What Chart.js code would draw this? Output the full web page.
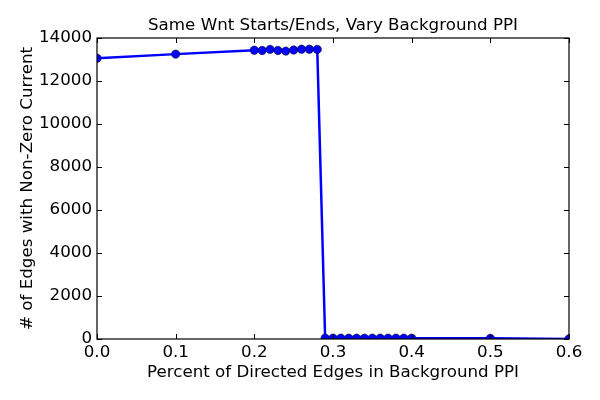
<!DOCTYPE html>
<html>
<head>
<meta charset="utf-8">
<script src="https://cdn.jsdelivr.net/npm/chart.js@4"></script>
<style>
html,body{margin:0;padding:0;background:#fff;}
#wrap{width:600px;height:400px;position:relative;}
</style>
</head>
<body>
<div id="wrap"><canvas id="c" width="600" height="400"></canvas></div>
<script>
const xValues = [0.0, 0.1, 0.20, 0.21, 0.22, 0.23, 0.24, 0.25, 0.26, 0.27, 0.28, 0.29, 0.30, 0.31, 0.32, 0.33, 0.34, 0.35, 0.36, 0.37, 0.38, 0.39, 0.40, 0.5, 0.6];
const edgeCounts = [13060, 13250, 13430, 13420, 13470, 13420, 13390, 13440, 13480, 13480, 13470, 40, 40, 40, 40, 40, 40, 40, 40, 40, 40, 40, 40, 30, 5];
const xTicks = [0.0, 0.1, 0.2, 0.3, 0.4, 0.5, 0.6];
const yTicks = [0, 2000, 4000, 6000, 8000, 10000, 12000, 14000];
const titleText = 'Same Wnt Starts/Ends, Vary Background PPI';
const xTitle = 'Percent of Directed Edges in Background PPI';
const yTitle = '# of Edges with Non-Zero Current';

const FONT = 'DejaVu Sans';
const FS = 16.7;
const points = xValues.map((x, i) => ({x: x, y: edgeCounts[i]}));

const frameAndTitle = {
  id: 'frameAndTitle',
  afterDatasetsDraw(chart) {
    const ctx = chart.ctx, a = chart.chartArea;
    const xs = chart.scales.x, ys = chart.scales.y;
    ctx.save();
    ctx.strokeStyle = '#000';
    ctx.lineWidth = 1;
    ctx.beginPath();
    xTicks.forEach(v => {
      const px = Math.round(xs.getPixelForValue(v)) + 0.5;
      ctx.moveTo(px, a.bottom); ctx.lineTo(px, a.bottom - 5);
      ctx.moveTo(px, a.top); ctx.lineTo(px, a.top + 5);
    });
    yTicks.forEach(v => {
      const py = Math.round(ys.getPixelForValue(v)) + 0.5;
      ctx.moveTo(a.left, py); ctx.lineTo(a.left + 5, py);
      ctx.moveTo(a.right, py); ctx.lineTo(a.right - 5, py);
    });
    ctx.stroke();
    ctx.lineWidth = 1.2;
    ctx.strokeRect(a.left, a.top, a.right - a.left, a.bottom - a.top);
    ctx.fillStyle = '#000';
    ctx.font = FS + 'px "' + FONT + '"';
    ctx.textAlign = 'center';
    ctx.textBaseline = 'middle';
    ctx.fillText(titleText, (a.left + a.right) / 2, 26);
    ctx.restore();
  }
};

new Chart(document.getElementById('c'), {
  type: 'line',
  data: {
    datasets: [{
      data: points,
      borderColor: '#0000ff',
      backgroundColor: '#0000ff',
      borderWidth: 2.5,
      pointRadius: 4.2,
      pointBorderColor: '#000000',
      pointBorderWidth: 0.5,
      pointBackgroundColor: '#0000ff',
      tension: 0,
      fill: false
    }]
  },
  options: {
    responsive: false,
    animation: false,
    devicePixelRatio: 1,
    layout: {padding: {left: 18, right: 31, top: 38, bottom: 17}},
    plugins: {
      legend: {display: false},
      tooltip: {enabled: false},
      title: {display: false}
    },
    scales: {
      x: {
        type: 'linear',
        min: 0, max: 0.6,
        afterBuildTicks: s => { s.ticks = xTicks.map(v => ({value: v})); },
        afterFit: s => { s.height = 44; },
        grid: {display: false, drawTicks: false},
        border: {display: false},
        ticks: {
          color: '#000',
          padding: 4,
          maxRotation: 0,
          font: {family: FONT, size: FS},
          callback: v => Number(v).toFixed(1)
        },
        title: {
          display: true, text: xTitle, color: '#000',
          font: {family: FONT, size: FS},
          padding: {top: 0, bottom: 0}
        }
      },
      y: {
        type: 'linear',
        min: 0, max: 14000,
        afterBuildTicks: s => { s.ticks = yTicks.map(v => ({value: v})); },
        afterFit: s => { s.width = 79; },
        grid: {display: false, drawTicks: false},
        border: {display: false},
        ticks: {
          color: '#000',
          padding: 5,
          font: {family: FONT, size: FS},
          callback: v => String(v)
        },
        title: {
          display: true, text: yTitle, color: '#000',
          font: {family: FONT, size: FS},
          padding: {top: 0, bottom: 4}
        }
      }
    }
  },
  plugins: [frameAndTitle]
});
</script>
</body>
</html>
